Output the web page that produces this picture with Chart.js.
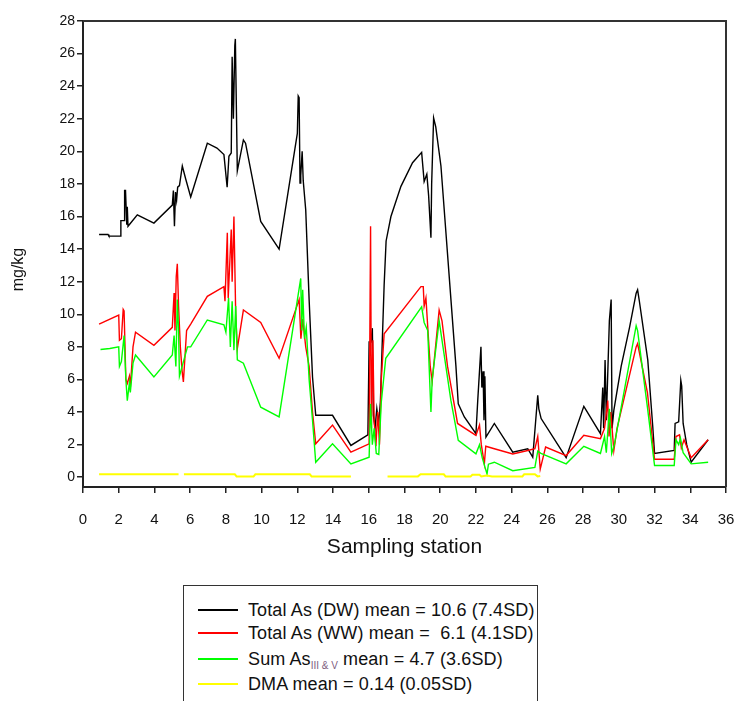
<!DOCTYPE html>
<html>
<head>
<meta charset="utf-8">
<script src="https://cdn.jsdelivr.net/npm/chart.js@4/dist/chart.umd.min.js"></script>
<style>
  html, body { margin: 0; padding: 0; background: #fff; width: 738px; height: 701px; overflow: hidden; }
  #wrap { position: relative; width: 738px; height: 701px; }
  #c { position: absolute; left: 0; top: 0; }
  #legend { position: absolute; left: 183px; top: 585px; width: 355px; height: 130px;
            border: 1.5px solid #333; box-sizing: border-box; font-family: "Liberation Sans", Arial, sans-serif;
            font-size: 18px; color: #111; }
  .row { position: absolute; left: 0; height: 20px; width: 100%; }
  .swatch { position: absolute; left: 14px; width: 40px; height: 2px; top: 9px; }
  .lab { position: absolute; left: 64px; top: 0; white-space: pre; line-height: 20px; letter-spacing: 0.12px; }
  sub { font-size: 10px; color: #806080; vertical-align: -4px; letter-spacing: 0; }
</style>
</head>
<body>
<div id="wrap">
<canvas id="c" width="738" height="575"></canvas>
<div id="legend"></div>
</div>
<script>
// ---- data ----
const seriesNames = [
  "Total As (DW) mean = 10.6 (7.4SD)",
  "Total As (WW) mean =  6.1 (4.1SD)",
  "Sum As<sub>III &amp; V</sub> mean = 4.7 (3.6SD)",
  "DMA mean = 0.14 (0.05SD)"
];
const xTicks = [0,2,4,6,8,10,12,14,16,18,20,22,24,26,28,30,32,34,36];
const yTicks = [0,2,4,6,8,10,12,14,16,18,20,22,24,26,28];

const dwX = [0.9,1.4,1.45,2.1,2.12,2.3,2.33,2.38,2.45,2.48,2.52,3.04,3.97,5.0,5.06,5.12,5.18,5.24,5.3,5.4,5.56,5.75,6.03,6.96,7.5,7.89,8.07,8.17,8.3,8.35,8.42,8.5,8.53,8.64,8.98,9.1,9.95,10.98,12.0,12.05,12.1,12.15,12.19,12.27,12.33,12.47,12.66,12.85,13.03,13.97,15.0,15.95,16.02,16.12,16.2,16.26,16.35,16.45,16.55,16.65,16.77,16.86,16.97,17.24,17.8,18.45,18.96,19.1,19.25,19.35,19.48,19.52,19.63,19.75,20.04,20.32,20.6,20.88,21.01,21.35,22.0,22.1,22.28,22.33,22.4,22.45,22.5,22.56,23.03,24.06,24.9,25.18,25.46,25.52,25.65,27.05,28.04,28.97,29.1,29.15,29.23,29.3,29.47,29.57,29.62,29.72,30.13,30.6,30.97,31.05,31.15,31.62,31.9,32.0,33.1,33.15,33.35,33.47,33.52,33.6,33.8,34.05,35.0];
const dwY = [14.9,14.9,14.8,14.8,15.75,15.75,17.6,17.6,15.5,16.6,15.4,16.1,15.6,16.7,17.6,15.4,17.5,17.0,17.8,17.9,19.1,18.3,17.2,20.5,20.2,19.8,17.8,19.7,19.9,25.8,22.0,26.5,26.9,18.8,20.7,20.5,15.7,14.0,21.1,23.4,23.3,18.05,18.5,20.0,18.2,16.4,10.9,6.15,3.8,3.8,1.95,2.6,8.3,8.3,9.15,3.8,3.0,4.2,3.3,4.6,8.8,11.8,14.5,16.0,17.85,19.3,19.94,18.15,18.6,17.3,14.7,18.0,22.05,21.5,19.1,15.0,10.9,6.8,4.5,3.7,2.67,4.7,8.0,5.5,6.5,3.5,6.2,2.46,3.3,1.54,1.75,1.23,5.03,4.2,3.6,1.2,4.35,2.67,5.5,3.0,7.2,3.5,9.6,10.9,3.0,4.1,6.8,9.2,11.3,11.5,10.8,7.2,3.1,1.46,1.64,3.3,3.4,5.95,5.6,3.3,2.0,0.92,2.3];

const wwX = [0.9,2.0,2.04,2.15,2.25,2.3,2.4,2.48,2.6,2.65,2.8,2.94,3.97,5.0,5.1,5.15,5.22,5.28,5.35,5.45,5.55,5.62,5.8,6.03,6.96,7.89,7.95,8.08,8.13,8.3,8.35,8.45,8.55,8.64,8.98,9.95,10.98,12.1,12.2,12.3,12.47,12.66,12.85,13.03,13.97,15.0,16.02,16.1,16.15,16.23,16.3,16.4,16.5,16.6,16.7,16.86,18.92,19.05,19.1,19.2,19.44,19.55,19.94,20.1,20.41,20.97,22.0,22.2,22.3,22.47,22.55,23.03,24.06,24.9,25.3,25.46,25.6,25.9,27.05,28.04,28.97,29.2,29.38,29.45,29.55,29.72,29.9,30.97,31.05,31.6,32.0,33.1,33.2,33.4,33.5,33.65,34.05,35.0];
const wwY = [9.4,9.95,8.4,8.5,10.3,10.2,6.0,5.75,6.2,5.5,8.0,8.9,8.1,9.2,11.3,9.0,12.3,13.1,10.5,8.0,6.5,5.85,9.0,9.4,11.1,11.7,10.8,15.0,11.0,15.2,12.0,16.0,10.0,7.9,10.26,9.5,7.3,10.9,8.5,9.7,8.0,6.8,4.0,2.05,3.2,1.54,2.05,15.4,3.0,8.4,3.5,1.9,4.0,2.0,6.0,8.8,11.7,11.7,10.5,11.0,6.8,5.9,10.26,9.6,6.8,3.3,2.57,3.2,2.0,0.82,1.9,1.75,1.43,1.64,1.75,2.5,0.5,1.85,1.33,2.57,2.37,3.0,4.7,2.5,4.0,1.64,3.0,8.0,8.2,5.2,1.1,1.1,2.5,2.6,1.8,2.3,1.2,2.3];

const sumX = [0.98,1.5,2.0,2.04,2.15,2.3,2.4,2.48,2.6,2.65,2.8,2.94,3.97,5.0,5.1,5.2,5.28,5.35,5.4,5.6,5.85,6.03,6.96,7.89,8.0,8.15,8.25,8.35,8.45,8.55,8.64,8.98,9.95,10.98,12.19,12.25,12.3,12.4,12.5,12.66,12.85,13.03,13.97,15.0,16.02,16.1,16.2,16.3,16.42,16.56,16.7,16.95,18.96,19.1,19.3,19.48,19.55,19.94,20.6,21.01,22.0,22.2,22.35,22.62,22.7,23.03,24.06,25.3,25.46,25.64,27.05,28.04,28.97,29.2,29.3,29.47,29.6,29.75,30.97,31.05,31.6,32.0,33.1,33.2,33.35,33.45,33.6,34.05,35.0];
const sumY = [7.84,7.9,8.0,6.8,7.1,8.7,6.0,4.7,5.8,5.2,7.0,7.5,6.15,7.5,8.7,6.8,10.9,9.0,6.2,7.0,8.0,8.0,9.65,9.35,8.9,11.0,8.0,10.8,7.8,10.5,7.2,7.0,4.3,3.7,12.2,9.0,11.5,8.5,9.2,6.0,3.5,0.92,2.05,0.82,1.23,4.5,2.0,3.0,1.46,1.4,4.6,7.3,10.46,9.5,9.0,4.0,6.0,9.6,4.7,2.26,1.44,2.0,1.2,0.2,0.8,0.92,0.4,0.6,1.6,1.46,0.82,1.9,1.46,2.5,1.5,4.2,1.46,2.0,9.3,9.0,4.3,0.72,0.72,2.3,2.0,2.4,1.5,0.82,0.92];

const dmaX = [0.9,5.35,5.45,5.65,8.5,8.6,9.55,9.65,12.7,12.8,15.0,16.0,17.05,18.75,18.9,20.2,20.3,21.7,21.8,22.2,22.3,22.6,22.9,24.6,24.7,25.3,25.45,25.6];
const dmaY = [0.18,0.18,null,0.18,0.18,0.05,0.05,0.18,0.18,0.05,0.05,null,0.05,0.05,0.18,0.18,0.05,0.05,0.15,0.15,0.05,0.1,0.05,0.05,0.18,0.18,0.05,0.08];

const colors = ["#000000", "#ff0000", "#00ff00", "#ffff00"];

const pts = (xs, ys) => xs.map((x, i) => ({ x: x, y: ys[i] }));

const frame = {
  id: 'frame',
  afterDraw(chart) {
    const { ctx, chartArea: a } = chart;
    ctx.save();
    ctx.strokeStyle = '#333';
    ctx.lineWidth = 2;
    ctx.beginPath();
    ctx.moveTo(a.left, a.top);
    ctx.lineTo(a.right, a.top);
    ctx.lineTo(a.right, a.bottom);
    ctx.stroke();
    ctx.restore();
  }
};

const FONT = "'Liberation Sans', Arial, sans-serif";

new Chart(document.getElementById('c'), {
  type: 'line',
  data: {
    datasets: [
      { label: 'Total As (DW)', data: pts(dwX, dwY), borderColor: colors[0], borderWidth: 1.4, order: 4 },
      { label: 'Total As (WW)', data: pts(wwX, wwY), borderColor: colors[1], borderWidth: 1.4, order: 3 },
      { label: 'Sum As III & V', data: pts(sumX, sumY), borderColor: colors[2], borderWidth: 1.4, order: 2 },
      { label: 'DMA', data: pts(dmaX, dmaY), borderColor: colors[3], borderWidth: 2, order: 1, spanGaps: false }
    ]
  },
  options: {
    responsive: false,
    animation: false,
    devicePixelRatio: 1,
    layout: { padding: { left: 0, right: 12, top: 21, bottom: 0 } },
    elements: { point: { radius: 0 }, line: { tension: 0, fill: false } },
    plugins: { legend: { display: false }, tooltip: { enabled: false } },
    scales: {
      x: {
        type: 'linear', min: 0, max: 36,
        afterBuildTicks: s => { s.ticks = xTicks.map(v => ({ value: v })); },
        afterFit: s => { s.height = 88; s.paddingLeft = 0; s.paddingRight = 0; },
        ticks: { color: '#111', font: { family: FONT, size: 15 }, padding: 18, maxRotation: 0, autoSkip: false },
        grid: { drawOnChartArea: false, drawTicks: true, tickLength: 6, color: '#222', lineWidth: 1.5 },
        border: { display: true, color: '#222', width: 2 },
        title: { display: true, text: 'Sampling station', color: '#111', font: { family: FONT, size: 21 }, padding: { top: 0, bottom: 15 } }
      },
      y: {
        type: 'linear', min: -0.6, max: 28,
        afterBuildTicks: s => { s.ticks = yTicks.map(v => ({ value: v })); },
        afterFit: s => { s.width = 83; s.paddingTop = 0; s.paddingBottom = 0; },
        ticks: { color: '#111', font: { family: FONT, size: 14 }, padding: 2, autoSkip: false },
        grid: { drawOnChartArea: false, drawTicks: true, tickLength: 6, color: '#222', lineWidth: 1.5 },
        border: { display: true, color: '#222', width: 2 },
        title: { display: true, text: 'mg/kg       ', color: '#111', font: { family: FONT, size: 16 }, padding: { top: 9, bottom: 0 } }
      }
    }
  },
  plugins: [frame]
});

// legend (HTML)
const rowTops = [14, 37, 63, 88];
const leg = document.getElementById('legend');
seriesNames.forEach((name, i) => {
  const r = document.createElement('div');
  r.className = 'row';
  r.style.top = rowTops[i] + 'px';
  r.innerHTML = '<div class="swatch" style="background:' + colors[i] + '"></div><div class="lab">' + name + '</div>';
  leg.appendChild(r);
});
</script>
</body>
</html>
